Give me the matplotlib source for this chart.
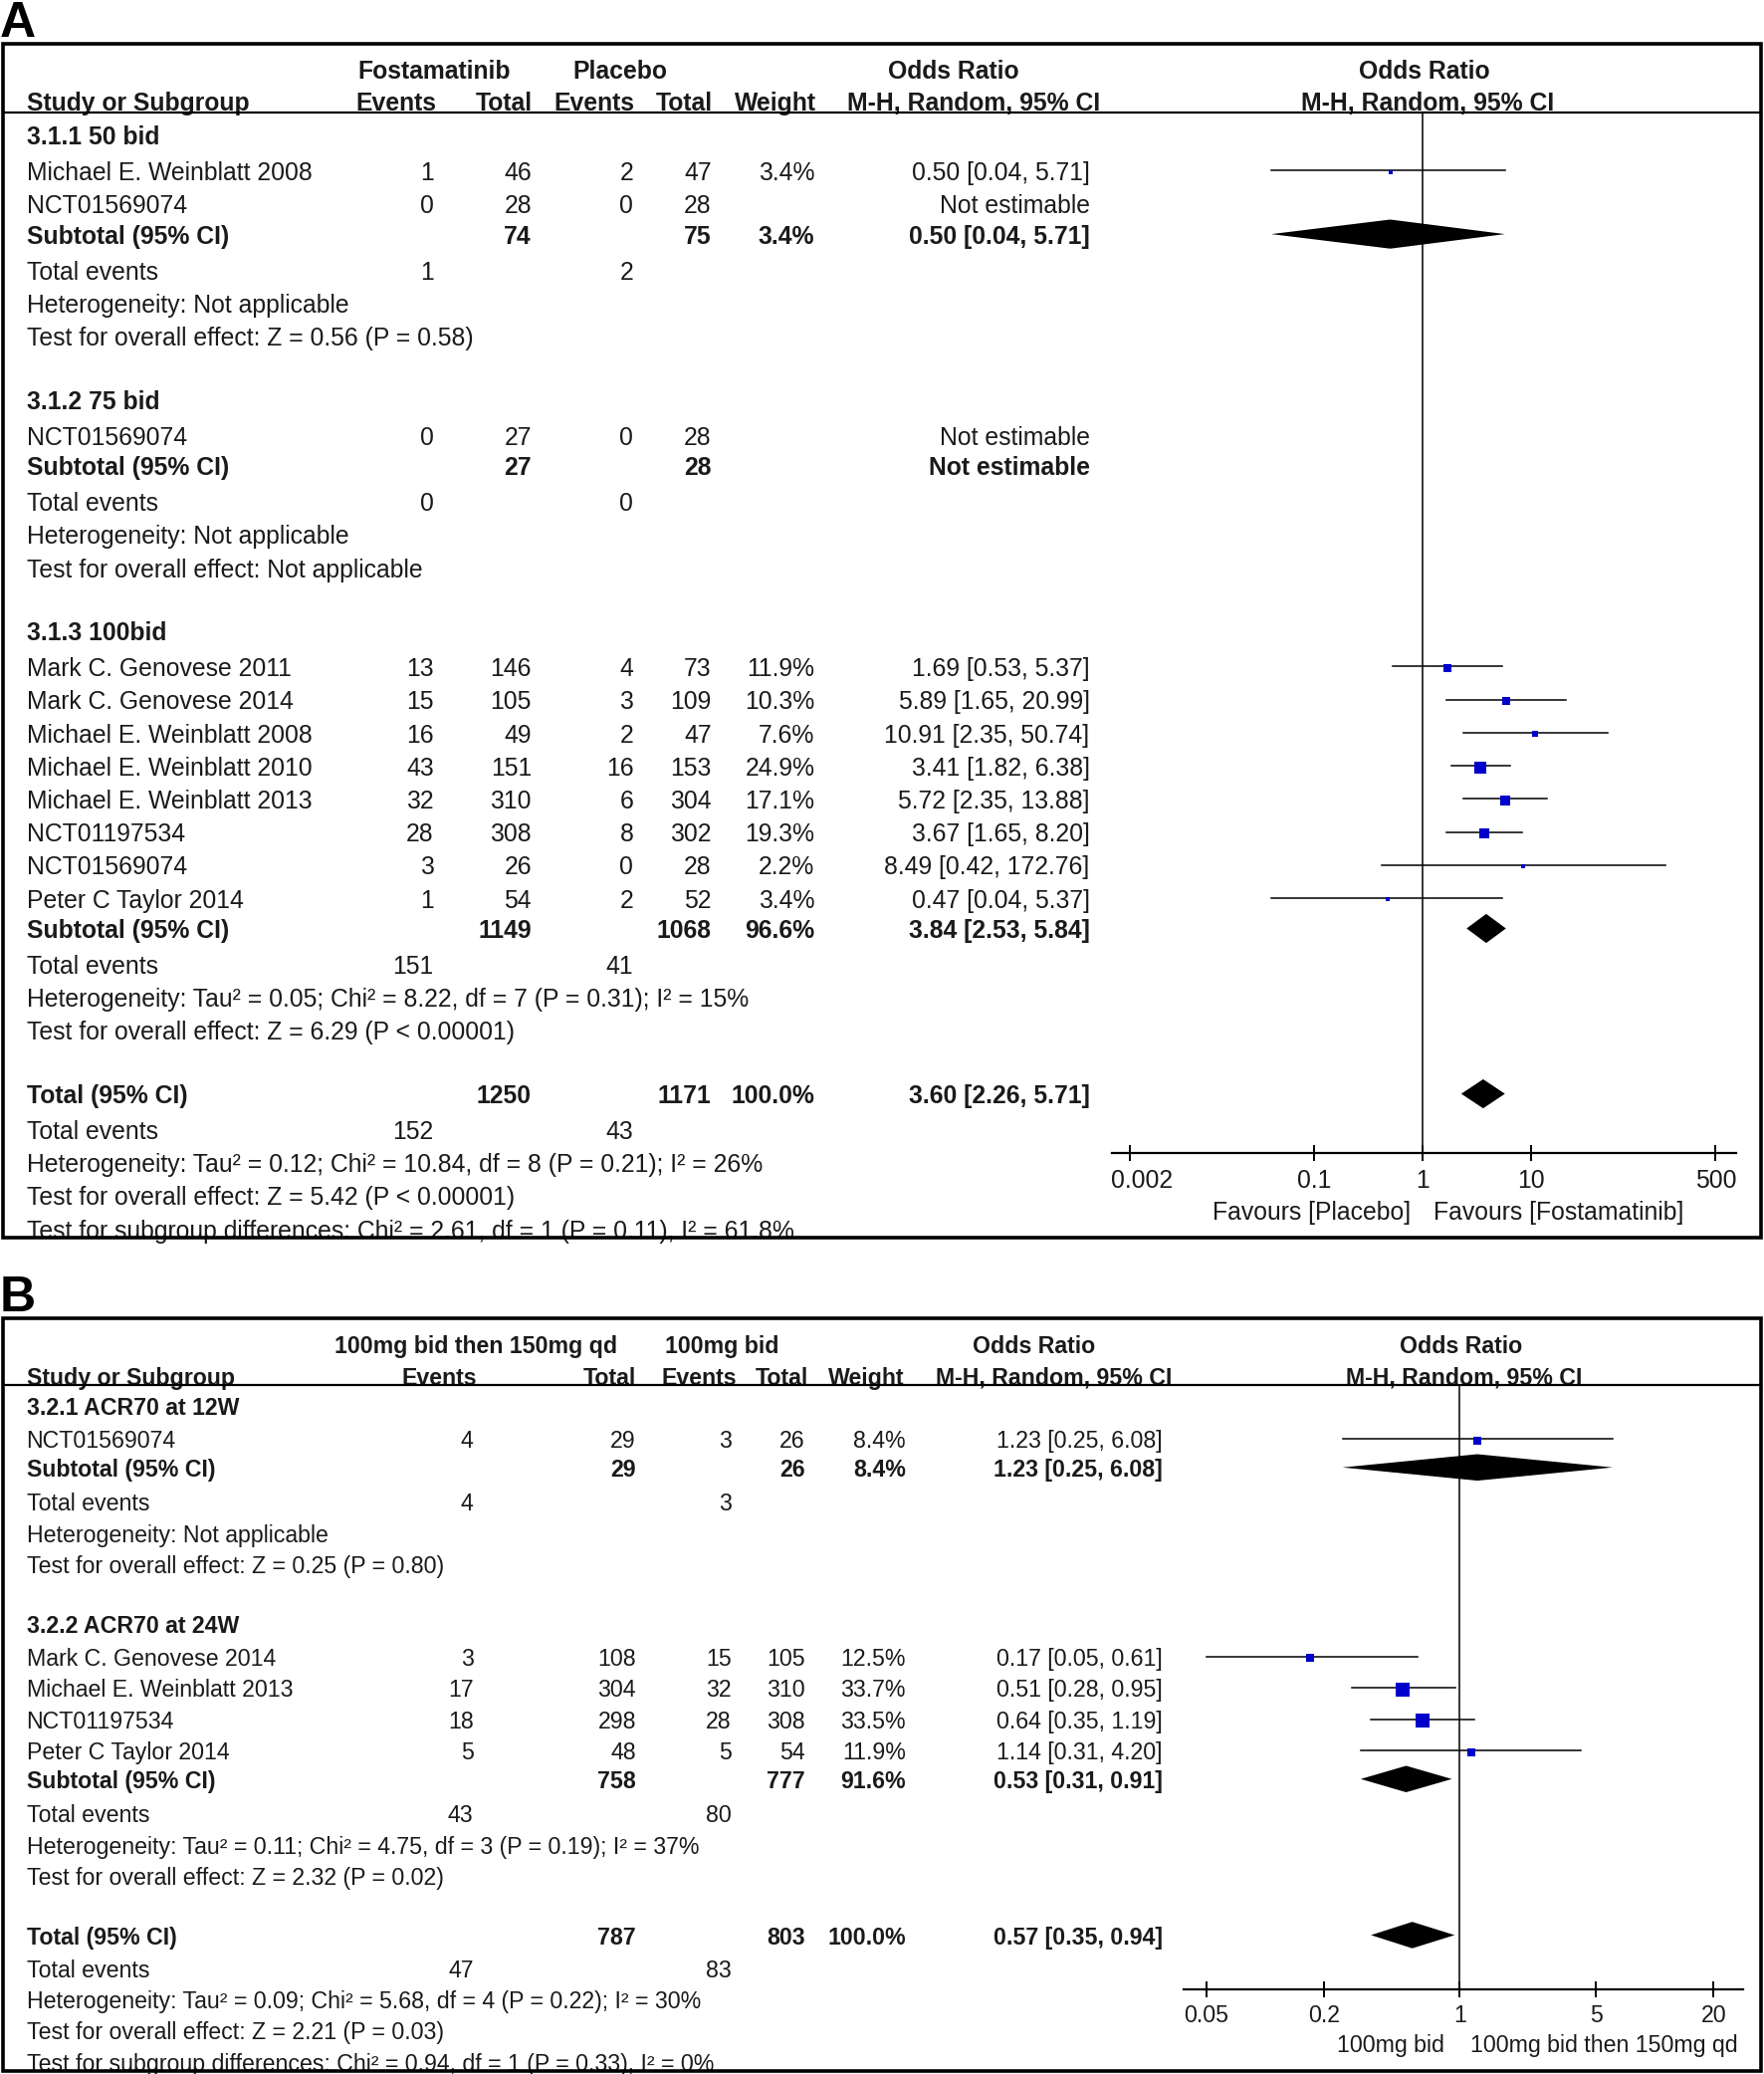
import matplotlib
matplotlib.use("Agg")
import matplotlib.pyplot as plt
from matplotlib.patches import Rectangle
from matplotlib.transforms import ScaledTranslation
import numpy as np

plt.rcParams['font.family'] = ['Liberation Sans', 'DejaVu Sans']

W, H = 1772, 2083
S = W / 1334.0          # layout below is written in 1334-wide units
TXT = '#1a1a1a'
BLUE = '#0000cc'
TEXT_DY = 2.0           # vertical nudge of text (layout units)

# ====================== Panel A data ======================
A_grp1_name = "3.1.1 50 bid"
A_grp1_studies = ["Michael E. Weinblatt 2008", "NCT01569074"]
A_grp1_ev1 = [1, 0]
A_grp1_n1 = [46, 28]
A_grp1_ev2 = [2, 0]
A_grp1_n2 = [47, 28]
A_grp1_w = [3.4, None]
A_grp1_or = [0.50, None]
A_grp1_lo = [0.04, None]
A_grp1_hi = [5.71, None]
A_grp1_sub_n = [74, 75]
A_grp1_sub_w = 3.4
A_grp1_sub_ci = [0.50, 0.04, 5.71]
A_grp1_events = [1, 2]
A_grp1_het = "Heterogeneity: Not applicable"
A_grp1_test = "Test for overall effect: Z = 0.56 (P = 0.58)"

A_grp2_name = "3.1.2 75 bid"
A_grp2_studies = ["NCT01569074"]
A_grp2_ev1 = [0]
A_grp2_n1 = [27]
A_grp2_ev2 = [0]
A_grp2_n2 = [28]
A_grp2_w = [None]
A_grp2_or = [None]
A_grp2_lo = [None]
A_grp2_hi = [None]
A_grp2_sub_n = [27, 28]
A_grp2_sub_w = None
A_grp2_sub_ci = None
A_grp2_events = [0, 0]
A_grp2_het = "Heterogeneity: Not applicable"
A_grp2_test = "Test for overall effect: Not applicable"

A_grp3_name = "3.1.3 100bid"
A_grp3_studies = ["Mark C. Genovese 2011", "Mark C. Genovese 2014",
                  "Michael E. Weinblatt 2008", "Michael E. Weinblatt 2010",
                  "Michael E. Weinblatt 2013", "NCT01197534", "NCT01569074",
                  "Peter C Taylor 2014"]
A_grp3_ev1 = [13, 15, 16, 43, 32, 28, 3, 1]
A_grp3_n1 = [146, 105, 49, 151, 310, 308, 26, 54]
A_grp3_ev2 = [4, 3, 2, 16, 6, 8, 0, 2]
A_grp3_n2 = [73, 109, 47, 153, 304, 302, 28, 52]
A_grp3_w = [11.9, 10.3, 7.6, 24.9, 17.1, 19.3, 2.2, 3.4]
A_grp3_or = [1.69, 5.89, 10.91, 3.41, 5.72, 3.67, 8.49, 0.47]
A_grp3_lo = [0.53, 1.65, 2.35, 1.82, 2.35, 1.65, 0.42, 0.04]
A_grp3_hi = [5.37, 20.99, 50.74, 6.38, 13.88, 8.20, 172.76, 5.37]
A_grp3_sub_n = [1149, 1068]
A_grp3_sub_w = 96.6
A_grp3_sub_ci = [3.84, 2.53, 5.84]
A_grp3_events = [151, 41]
A_grp3_het = "Heterogeneity: Tau² = 0.05; Chi² = 8.22, df = 7 (P = 0.31); I² = 15%"
A_grp3_test = "Test for overall effect: Z = 6.29 (P < 0.00001)"

A_tot_n = [1250, 1171]
A_tot_w = 100.0
A_tot_ci = [3.60, 2.26, 5.71]
A_tot_events = [152, 43]
A_tot_het = "Heterogeneity: Tau² = 0.12; Chi² = 10.84, df = 8 (P = 0.21); I² = 26%"
A_tot_test = "Test for overall effect: Z = 5.42 (P < 0.00001)"
A_tot_sub = "Test for subgroup differences: Chi² = 2.61, df = 1 (P = 0.11), I² = 61.8%"

A_arm1 = "Fostamatinib"
A_arm2 = "Placebo"
A_ticks = [0.002, 0.1, 1, 10, 500]
A_ticklabels = ["0.002", "0.1", "1", "10", "500"]
A_fav_left = "Favours [Placebo]"
A_fav_right = "Favours [Fostamatinib]"

# ====================== Panel B data ======================
B_grp1_name = "3.2.1 ACR70 at 12W"
B_grp1_studies = ["NCT01569074"]
B_grp1_ev1 = [4]
B_grp1_n1 = [29]
B_grp1_ev2 = [3]
B_grp1_n2 = [26]
B_grp1_w = [8.4]
B_grp1_or = [1.23]
B_grp1_lo = [0.25]
B_grp1_hi = [6.08]
B_grp1_sub_n = [29, 26]
B_grp1_sub_w = 8.4
B_grp1_sub_ci = [1.23, 0.25, 6.08]
B_grp1_events = [4, 3]
B_grp1_het = "Heterogeneity: Not applicable"
B_grp1_test = "Test for overall effect: Z = 0.25 (P = 0.80)"

B_grp2_name = "3.2.2 ACR70 at 24W"
B_grp2_studies = ["Mark C. Genovese 2014", "Michael E. Weinblatt 2013",
                  "NCT01197534", "Peter C Taylor 2014"]
B_grp2_ev1 = [3, 17, 18, 5]
B_grp2_n1 = [108, 304, 298, 48]
B_grp2_ev2 = [15, 32, 28, 5]
B_grp2_n2 = [105, 310, 308, 54]
B_grp2_w = [12.5, 33.7, 33.5, 11.9]
B_grp2_or = [0.17, 0.51, 0.64, 1.14]
B_grp2_lo = [0.05, 0.28, 0.35, 0.31]
B_grp2_hi = [0.61, 0.95, 1.19, 4.20]
B_grp2_sub_n = [758, 777]
B_grp2_sub_w = 91.6
B_grp2_sub_ci = [0.53, 0.31, 0.91]
B_grp2_events = [43, 80]
B_grp2_het = "Heterogeneity: Tau² = 0.11; Chi² = 4.75, df = 3 (P = 0.19); I² = 37%"
B_grp2_test = "Test for overall effect: Z = 2.32 (P = 0.02)"

B_tot_n = [787, 803]
B_tot_w = 100.0
B_tot_ci = [0.57, 0.35, 0.94]
B_tot_events = [47, 83]
B_tot_het = "Heterogeneity: Tau² = 0.09; Chi² = 5.68, df = 4 (P = 0.22); I² = 30%"
B_tot_test = "Test for overall effect: Z = 2.21 (P = 0.03)"
B_tot_sub = "Test for subgroup differences: Chi² = 0.94, df = 1 (P = 0.33), I² = 0%"

B_arm1 = "100mg bid then 150mg qd"
B_arm2 = "100mg bid"
B_ticks = [0.05, 0.2, 1, 5, 20]
B_ticklabels = ["0.05", "0.2", "1", "5", "20"]
B_fav_left = "100mg bid"
B_fav_right = "100mg bid then 150mg qd"


def make_group(name, studies, ev1, n1, ev2, n2, w, orv, lo, hi,
               sub_n, sub_w, sub_ci, events, het, test):
    return dict(name=name, studies=studies, ev1=ev1, n1=n1, ev2=ev2, n2=n2,
                w=w, orv=orv, lo=lo, hi=hi, sub_n=sub_n, sub_w=sub_w,
                sub_ci=sub_ci, events=events, het=het, test=test)


A_groups = [
    make_group(A_grp1_name, A_grp1_studies, A_grp1_ev1, A_grp1_n1, A_grp1_ev2, A_grp1_n2,
               A_grp1_w, A_grp1_or, A_grp1_lo, A_grp1_hi, A_grp1_sub_n, A_grp1_sub_w,
               A_grp1_sub_ci, A_grp1_events, A_grp1_het, A_grp1_test),
    make_group(A_grp2_name, A_grp2_studies, A_grp2_ev1, A_grp2_n1, A_grp2_ev2, A_grp2_n2,
               A_grp2_w, A_grp2_or, A_grp2_lo, A_grp2_hi, A_grp2_sub_n, A_grp2_sub_w,
               A_grp2_sub_ci, A_grp2_events, A_grp2_het, A_grp2_test),
    make_group(A_grp3_name, A_grp3_studies, A_grp3_ev1, A_grp3_n1, A_grp3_ev2, A_grp3_n2,
               A_grp3_w, A_grp3_or, A_grp3_lo, A_grp3_hi, A_grp3_sub_n, A_grp3_sub_w,
               A_grp3_sub_ci, A_grp3_events, A_grp3_het, A_grp3_test),
]
A_overall = dict(n=A_tot_n, w=A_tot_w, ci=A_tot_ci, events=A_tot_events,
                 het=A_tot_het, test=A_tot_test, sub=A_tot_sub)

B_groups = [
    make_group(B_grp1_name, B_grp1_studies, B_grp1_ev1, B_grp1_n1, B_grp1_ev2, B_grp1_n2,
               B_grp1_w, B_grp1_or, B_grp1_lo, B_grp1_hi, B_grp1_sub_n, B_grp1_sub_w,
               B_grp1_sub_ci, B_grp1_events, B_grp1_het, B_grp1_test),
    make_group(B_grp2_name, B_grp2_studies, B_grp2_ev1, B_grp2_n1, B_grp2_ev2, B_grp2_n2,
               B_grp2_w, B_grp2_or, B_grp2_lo, B_grp2_hi, B_grp2_sub_n, B_grp2_sub_w,
               B_grp2_sub_ci, B_grp2_events, B_grp2_het, B_grp2_test),
]
B_overall = dict(n=B_tot_n, w=B_tot_w, ci=B_tot_ci, events=B_tot_events,
                 het=B_tot_het, test=B_tot_test, sub=B_tot_sub)


def fmt_ci(o, lo, hi):
    if o is None:
        return "Not estimable"
    return f"{o:.2f} [{lo:.2f}, {hi:.2f}]"


def fmt_w(w):
    return "" if w is None else f"{w:.1f}%"


def build_rows(groups, overall, L):
    rows = []
    y = L['y0']
    for gi, g in enumerate(groups):
        if gi > 0:
            y += L['test_head']
        rows.append((y, 'head', g))
        for i in range(len(g['studies'])):
            y += L['head_study'] if i == 0 else L['study_study']
            rows.append((y, 'study', (g, i)))
        y += L['study_sub']
        rows.append((y, 'sub', g))
        y += L['sub_te']
        rows.append((y, 'te', g['events']))
        y += L['te_het']
        rows.append((y, 'txt', g['het']))
        y += L['het_test']
        rows.append((y, 'txt', g['test']))
    y += L['test_head']
    rows.append((y, 'total', overall))
    y += L['tot_te']
    rows.append((y, 'te', overall['events']))
    y += L['te_het']
    rows.append((y, 'txt', overall['het']))
    y += L['het_test']
    rows.append((y, 'txt', overall['test']))
    y += L['het_test']
    rows.append((y, 'txt', overall['sub']))
    return rows


fig = plt.figure(figsize=(W / 100, H / 100), dpi=100)
axm = fig.add_axes([0, 0, 1, 1])
axm.set_xlim(0, W)
axm.set_ylim(H, 0)
axm.axis('off')


def T(x, y, s, fs, ha='left', bold=False, **kw):
    axm.text(x * S, (y + TEXT_DY) * S, s, ha=ha, va='center', fontsize=fs, color=TXT,
             fontweight='bold' if bold else 'normal', **kw)


def draw_panel(label, groups, overall, arm1, arm2, ticks, ticklabels, favl, favr, P):
    fs = P['fs']
    # panel letter
    axm.text(P['label_xy'][0] * S, (P['label_xy'][1] + TEXT_DY) * S, label,
             fontsize=P['label_fs'], fontweight='bold', ha='left', va='center', color='black')
    # frame
    bx0, by0, bx1, by1 = P['box']
    axm.add_patch(Rectangle((bx0 * S, by0 * S), (bx1 - bx0) * S, (by1 - by0) * S,
                            fill=False, lw=2.6, ec='black', zorder=5))
    axm.plot([bx0 * S, bx1 * S], [P['hline'] * S] * 2, color='black', lw=1.6, zorder=5)
    C = P['cols']
    # headers
    h1, h2 = P['hdr_y']
    T(P['arm1_c'], h1, arm1, fs, ha='center', bold=True)
    T(P['arm2_c'], h1, arm2, fs, ha='center', bold=True)
    T(P['or_hdr_c'], h1, "Odds Ratio", fs, ha='center', bold=True)
    T(P['plot_c'], h1, "Odds Ratio", fs, ha='center', bold=True)
    T(20, h2, "Study or Subgroup", fs, bold=True)
    T(P['hcols'][0], h2, "Events", fs, ha='right', bold=True)
    T(P['hcols'][1], h2, "Total", fs, ha='right', bold=True)
    T(P['hcols'][2], h2, "Events", fs, ha='right', bold=True)
    T(P['hcols'][3], h2, "Total", fs, ha='right', bold=True)
    T(P['hcols'][4], h2, "Weight", fs, ha='right', bold=True)
    T(P['hcols'][5], h2, "M-H, Random, 95% CI", fs, ha='right', bold=True)
    T(P['plot_c2'], h2, "M-H, Random, 95% CI", fs, ha='center', bold=True)

    # forest axes
    l, r = P['plot_lr']
    t, b = P['hline'], P['axis_y']
    fa = fig.add_axes([l * S / W, 1 - b * S / H, (r - l) * S / W, (b - t) * S / H])
    fa.set_xscale('log')
    fa.set_xlim(*P['xlim'])
    fa.set_ylim(b * S, t * S)
    fa.patch.set_alpha(0)
    for sp in ['top', 'left', 'right']:
        fa.spines[sp].set_visible(False)
    fa.spines['bottom'].set_linewidth(1.6)
    fa.set_yticks([])
    fa.set_xticks(ticks)
    fa.set_xticklabels(ticklabels)
    fa.minorticks_off()
    fa.tick_params(axis='x', direction='inout', length=12, width=1.4,
                   labelsize=fs, pad=P['tick_pad'], colors='black', labelcolor=TXT)
    if P['first_label_dx']:
        lab0 = fa.get_xticklabels()[0]
        lab0.set_transform(lab0.get_transform() +
                           ScaledTranslation(P['first_label_dx'] * S / 100, 0,
                                             fig.dpi_scale_trans))
    fa.plot([1, 1], [b * S, t * S], color='black', lw=1.1, zorder=1)

    rows = build_rows(groups, overall, P['layout'])
    dh = P['diamond_h']
    for y, kind, d in rows:
        yy = y * S
        if kind == 'head':
            T(20, y, d['name'], fs, bold=True)
        elif kind == 'study':
            g, i = d
            T(20, y, g['studies'][i], fs)
            T(C[0], y, str(g['ev1'][i]), fs, ha='right')
            T(C[1], y, str(g['n1'][i]), fs, ha='right')
            T(C[2], y, str(g['ev2'][i]), fs, ha='right')
            T(C[3], y, str(g['n2'][i]), fs, ha='right')
            T(C[4], y, fmt_w(g['w'][i]), fs, ha='right')
            T(C[5], y, fmt_ci(g['orv'][i], g['lo'][i], g['hi'][i]), fs, ha='right')
            if g['orv'][i] is not None:
                fa.plot([g['lo'][i], g['hi'][i]], [yy, yy], color='black', lw=1.1,
                        zorder=2, clip_on=False)
                side = P['sq_k'] * np.sqrt(g['w'][i]) * 0.72
                fa.plot([g['orv'][i]], [yy + 1.5], marker='s', ms=side, color=BLUE,
                        mec=BLUE, mew=0, ls='none', zorder=3, clip_on=False)
        elif kind in ('sub', 'total'):
            if kind == 'sub':
                name, n, w, ci = "Subtotal (95% CI)", d['sub_n'], d['sub_w'], d['sub_ci']
            else:
                name, n, w, ci = "Total (95% CI)", d['n'], d['w'], d['ci']
            T(20, y, name, fs, bold=True)
            T(C[1], y, str(n[0]), fs, ha='right', bold=True)
            T(C[3], y, str(n[1]), fs, ha='right', bold=True)
            T(C[4], y, fmt_w(w), fs, ha='right', bold=True)
            if ci is None:
                T(C[5], y, "Not estimable", fs, ha='right', bold=True)
            else:
                T(C[5], y, fmt_ci(*ci), fs, ha='right', bold=True)
                o, lo, hi = ci
                fa.fill([lo, o, hi, o], [yy, yy - dh * S, yy, yy + dh * S],
                        color='black', lw=0, zorder=3, clip_on=False)
        elif kind == 'te':
            T(20, y, "Total events", fs)
            T(C[0], y, str(d[0]), fs, ha='right')
            T(C[2], y, str(d[1]), fs, ha='right')
        else:
            T(20, y, d, fs)

    fy = P['fav_y']
    T(P['fav_l'], fy, favl, fs, ha='right')
    T(P['fav_r'], fy, favr, fs, ha='left')


PA = dict(
    fs=17.8, label_fs=36, label_xy=(0, 16), box=(2, 33, 1332, 936), hline=85,
    hdr_y=(52, 76), arm1_c=328, arm2_c=469, or_hdr_c=721, plot_c=1077, plot_c2=1080,
    hcols=[330, 403, 480, 539, 617, 832], cols=[328, 402, 479, 538, 616, 824],
    plot_lr=(841, 1313), axis_y=872, xlim=(10 ** -2.866, 10 ** 2.89), tick_pad=5,
    first_label_dx=9,
    layout=dict(y0=102, head_study=27, study_study=25, study_sub=23, sub_te=27,
                te_het=25, het_test=25, test_head=48, tot_te=27),
    diamond_h=11, sq_k=2.45, fav_y=915, fav_l=1067, fav_r=1084,
)

PB = dict(
    fs=16.7, label_fs=36, label_xy=(0, 980), box=(2, 997, 1332, 1566), hline=1047,
    hdr_y=(1016, 1040), arm1_c=360, arm2_c=546, or_hdr_c=782, plot_c=1105, plot_c2=1107,
    hcols=[361, 481, 557, 611, 684, 886], cols=[358, 481, 553, 609, 685, 879],
    plot_lr=(895, 1318), axis_y=1504, xlim=(10 ** -1.418, 10 ** 1.452), tick_pad=5,
    first_label_dx=0,
    layout=dict(y0=1063, head_study=25, study_study=23.7, study_sub=21.5, sub_te=26,
                te_het=23.5, het_test=23.5, test_head=45, tot_te=25),
    diamond_h=10, sq_k=2.5, fav_y=1545, fav_l=1092, fav_r=1112,
)

draw_panel("A", A_groups, A_overall, A_arm1, A_arm2, A_ticks, A_ticklabels,
           A_fav_left, A_fav_right, PA)
draw_panel("B", B_groups, B_overall, B_arm1, B_arm2, B_ticks, B_ticklabels,
           B_fav_left, B_fav_right, PB)

fig.savefig("out.png", dpi=100)
